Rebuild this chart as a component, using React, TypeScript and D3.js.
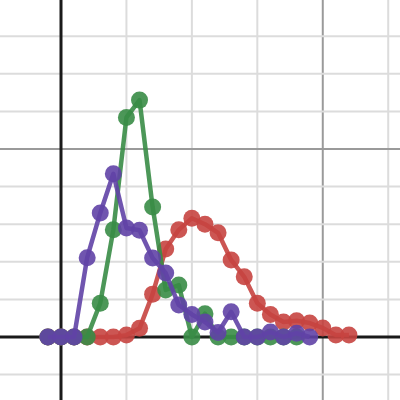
import React, { useEffect, useRef } from "react";
import { select, scaleLinear, range, line } from "d3";

// step positions (one point per step)
const steps = [-1, 0, 1, 2, 3, 4, 5, 6, 7, 8, 9, 10, 11, 12, 13, 14, 15, 16, 17, 18, 19, 20, 21, 22];
// series values (in minor grid units)
const redValues = [0, 0, 0, 0, 0, 0, 0.05, 0.23, 1.14, 2.34, 2.85, 3.16, 3.0, 2.77, 2.05, 1.6, 0.9, 0.6, 0.4, 0.43, 0.37, 0.24, 0.05, 0.05];
const greenValues = [0, 0, 0, 0, 0.9, 2.85, 5.84, 6.3, 3.46, 1.25, 1.38, 0, 0.62, 0, 0, 0, 0, 0, 0, 0];
const purpleValues = [0, 0, 0, 2.11, 3.3, 4.34, 2.9, 2.84, 2.1, 1.7, 0.85, 0.6, 0.4, 0.12, 0.67, 0, 0, 0.13, 0, 0.1, 0];

const series = [
  { name: "red", color: "#c74440", values: redValues },
  { name: "green", color: "#388c46", values: greenValues },
  { name: "purple", color: "#6042a6", values: purpleValues },
];

const WIDTH = 400;
const HEIGHT = 400;

const App = () => {
  const svgRef = useRef<SVGSVGElement | null>(null);

  useEffect(() => {
    document.body.style.margin = "0";
    const svg = select(svgRef.current);
    svg.selectAll("*").remove();

    const xScale = scaleLinear().domain([-4.66, 25.9]).range([0, WIDTH]);
    const yScale = scaleLinear().domain([-1.676, 8.963]).range([HEIGHT, 0]);

    // grid
    const grid = svg.append("g");
    const xTicks = range(-5, 30, 5);
    const yTicks = range(-2, 10, 1);
    grid
      .selectAll(".vx")
      .data(xTicks.filter((t) => t !== 0))
      .enter()
      .append("line")
      .attr("x1", (t) => xScale(t))
      .attr("x2", (t) => xScale(t))
      .attr("y1", 0)
      .attr("y2", HEIGHT)
      .attr("stroke", (t) => (t % 20 === 0 ? "#9a9a9a" : "#dcdcdc"))
      .attr("stroke-width", 2);
    grid
      .selectAll(".hy")
      .data(yTicks.filter((t) => t !== 0))
      .enter()
      .append("line")
      .attr("y1", (t) => yScale(t))
      .attr("y2", (t) => yScale(t))
      .attr("x1", 0)
      .attr("x2", WIDTH)
      .attr("stroke", (t) => (t % 5 === 0 ? "#9a9a9a" : "#dcdcdc"))
      .attr("stroke-width", 2);

    // axes
    svg
      .append("line")
      .attr("x1", xScale(0))
      .attr("x2", xScale(0))
      .attr("y1", 0)
      .attr("y2", HEIGHT)
      .attr("stroke", "#1a1a1a")
      .attr("stroke-width", 3);
    svg
      .append("line")
      .attr("y1", yScale(0))
      .attr("y2", yScale(0))
      .attr("x1", 0)
      .attr("x2", WIDTH)
      .attr("stroke", "#1a1a1a")
      .attr("stroke-width", 3);

    const lineGen = line<number>()
      .x((_, i) => xScale(steps[i]))
      .y((v) => yScale(v));

    series.forEach((s) => {
      const g = svg.append("g").attr("class", s.name);
      g.append("path")
        .attr("d", lineGen(s.values))
        .attr("fill", "none")
        .attr("stroke", s.color)
        .attr("stroke-width", 4.5)
        .attr("stroke-opacity", 0.9)
        .attr("stroke-linejoin", "round");
      g.selectAll("circle")
        .data(s.values)
        .enter()
        .append("circle")
        .attr("cx", (_, i) => xScale(steps[i]))
        .attr("cy", (v) => yScale(v))
        .attr("r", 8.5)
        .attr("fill", s.color)
        .attr("fill-opacity", 0.9);
    });
  }, []);

  return <svg ref={svgRef} width={WIDTH} height={HEIGHT} style={{ display: "block" }}></svg>;
};

export default App;
